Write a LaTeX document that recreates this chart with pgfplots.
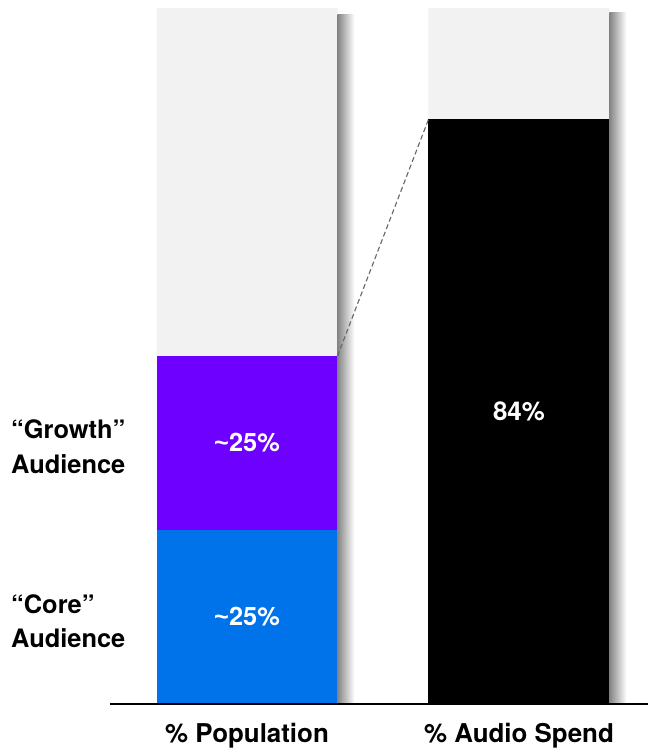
\documentclass[border=0pt]{standalone}
\usepackage{pgfplots}
\pgfplotsset{compat=1.18}
\usepackage{fontspec}
\setmainfont{TeX Gyre Heros}
\newfontfamily\tildefont{Liberation Sans}
\definecolor{coreblue}{RGB}{0,115,234}
\definecolor{growthpurple}{RGB}{110,0,255}
\definecolor{restgray}{RGB}{242,242,242}
\begin{document}
\begin{tikzpicture}
\path[use as bounding box] (-110bp,-48bp) rectangle (538bp,704bp);
\begin{axis}[
  at={(0,0)}, anchor=south west,
  scale only axis, width=538bp, height=696bp,
  xmin=-0.5037, xmax=1.4743, ymin=0, ymax=100,
  axis lines=none, clip=false,
  ybar stacked, bar width=181bp,
  xtick=\empty, ytick=\empty,
]
% shadows
\shade[left color=black!48, right color=white] (axis cs:0.3327,0) rectangle (axis cs:0.395,99.0);
\shade[left color=black!48, right color=white] (axis cs:1.3327,0) rectangle (axis cs:1.395,99.4);
\addplot[fill=coreblue, draw=none] coordinates {(0,25) (1,0)};
\addplot[fill=growthpurple, draw=none] coordinates {(0,25) (1,0)};
\addplot[fill=black, draw=none] coordinates {(0,0) (1,84)};
\addplot[fill=restgray, draw=none] coordinates {(0,50) (1,16)};
\end{axis}
\begin{axis}[
  at={(0,0)}, anchor=south west,
  scale only axis, width=538bp, height=696bp,
  xmin=-0.5037, xmax=1.4743, ymin=0, ymax=100,
  axis lines=none, clip=false,
  xtick=\empty, ytick=\empty,
]
\addplot[gray!80!black, line width=1.1bp, dash pattern=on 5bp off 3bp] coordinates {(0.3327,50) (0.6673,84)};
\draw[black, line width=1.4bp] (rel axis cs:0,0) -- (rel axis cs:1,0);
\node[white, font=\fontsize{25.5}{30}\selectfont\bfseries] at (axis cs:0,37.5) {{\tildefont\bfseries\char"7E}25\%};
\node[white, font=\fontsize{25.5}{30}\selectfont\bfseries] at (axis cs:0,12.5) {{\tildefont\bfseries\char"7E}25\%};
\node[white, font=\fontsize{26}{30}\selectfont\bfseries] at (axis cs:1,42) {84\%};
\node[anchor=west, align=left, font=\fontsize{25.5}{35}\selectfont\bfseries, inner sep=0pt] at ([xshift=-99bp]axis cs:-0.5037,37.0) {“Growth”\\Audience};
\node[anchor=west, align=left, font=\fontsize{25.5}{35}\selectfont\bfseries, inner sep=0pt] at ([xshift=-99bp]axis cs:-0.5037,11.9) {“Core”\\Audience};
\node[font=\fontsize{26}{30}\selectfont\bfseries] at ([yshift=-32bp]axis cs:0,0) {\% Population};
\node[font=\fontsize{26}{30}\selectfont\bfseries] at ([yshift=-32bp]axis cs:1,0) {\% Audio Spend};
\end{axis}
\end{tikzpicture}
\end{document}
